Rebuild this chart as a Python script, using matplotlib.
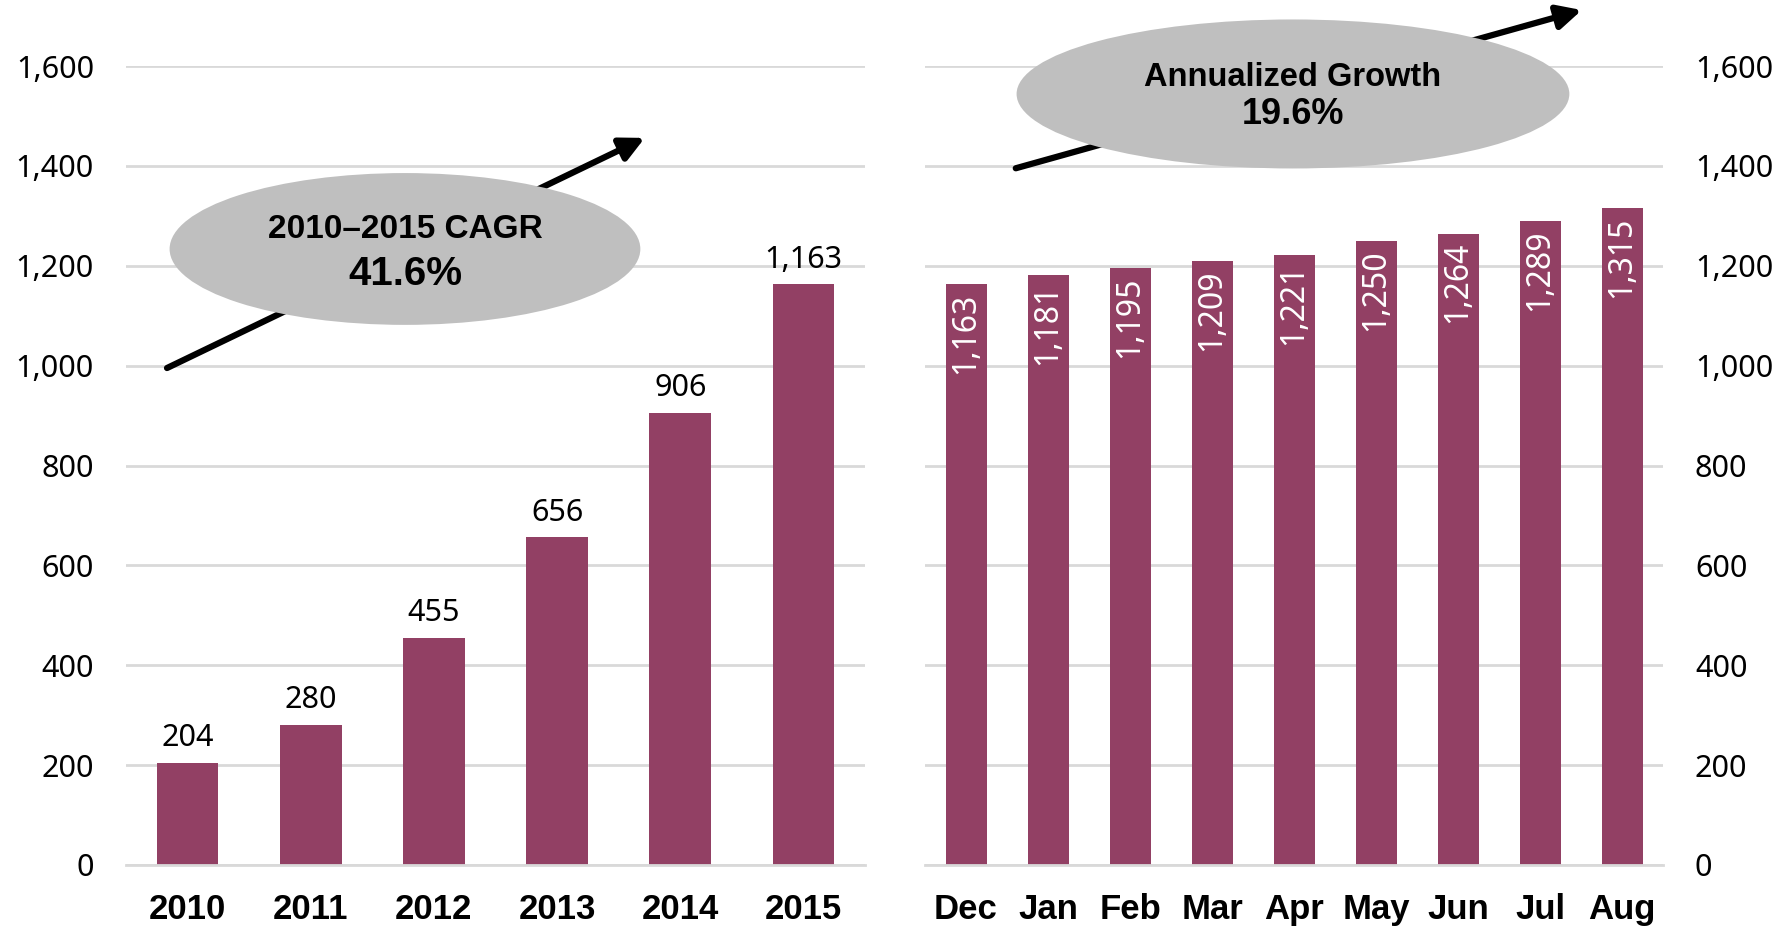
import matplotlib
matplotlib.use("Agg")
import matplotlib.pyplot as plt
from matplotlib.patches import Ellipse

plt.rcParams['font.family'] = ['Noto Sans', 'DejaVu Sans']
BOLD = ['Liberation Sans', 'DejaVu Sans']

# data
years = ["2010", "2011", "2012", "2013", "2014", "2015"]
year_values = [204, 280, 455, 656, 906, 1163]

months = ["Dec", "Jan", "Feb", "Mar", "Apr", "May", "Jun", "Jul", "Aug"]
month_values = [1163, 1181, 1195, 1209, 1221, 1250, 1264, 1289, 1315]

yticks = [0, 200, 400, 600, 800, 1000, 1200, 1400, 1600]

bar_color = "#924064"
grid_color = "#D9D9D9"
oval_color = "#BFBFBF"

W, H = 1791, 926
fig = plt.figure(figsize=(W / 100, H / 100), dpi=100)

ax1 = fig.add_axes([126 / W, 61 / H, 739 / W, 799 / H])
ax2 = fig.add_axes([925 / W, 61 / H, 738 / W, 799 / H])


def style(ax, cats, vals, right=False):
    x = range(len(cats))
    bars = ax.bar(x, vals, width=0.5, color=bar_color, zorder=2)
    ax.set_xlim(-0.5, len(cats) - 0.5)
    ax.set_ylim(0, 1600)
    ax.set_yticks(yticks)
    ax.set_yticklabels(["{:,}".format(v) for v in yticks])
    ax.set_xticks(list(x))
    ax.set_xticklabels(cats, fontweight="bold", fontsize=25, family=BOLD)
    for s in ["top", "left", "right"]:
        ax.spines[s].set_visible(False)
    ax.spines["bottom"].set_color(grid_color)
    ax.spines["bottom"].set_linewidth(2)
    ax.spines["bottom"].set_zorder(3)
    ax.grid(axis="y", color=grid_color, linewidth=2, zorder=0)
    ax.set_axisbelow(True)
    ax.tick_params(axis="both", length=0)
    ax.tick_params(axis="y", labelsize=22, pad=23)
    ax.tick_params(axis="x", pad=20)
    if right:
        ax.yaxis.tick_right()
    return bars


bars1 = style(ax1, years, year_values)
bars2 = style(ax2, months, month_values, right=True)

for b, v in zip(bars1, year_values):
    ax1.annotate("{:,}".format(v), (b.get_x() + b.get_width() / 2, v),
                 xytext=(0, 7), textcoords="offset points",
                 ha="center", va="bottom", fontsize=22)

for b, v in zip(bars2, month_values):
    ax2.annotate("{:,}".format(v), (b.get_x() + b.get_width() / 2, v),
                 xytext=(0, -6), textcoords="offset points",
                 ha="center", va="top", rotation=90, fontsize=23,
                 color="white", zorder=4)


def growth_badge(ax, start, tip, center, size, lines):
    ax.annotate("", xy=tip, xytext=start, xycoords="axes fraction",
                textcoords="axes fraction", annotation_clip=False,
                arrowprops=dict(arrowstyle="-|>", color="black", lw=4.5,
                                mutation_scale=36, shrinkA=0, shrinkB=0),
                zorder=5)
    e = Ellipse(center, size[0], size[1], transform=ax.transAxes,
                facecolor=oval_color, edgecolor="none", clip_on=False, zorder=6)
    ax.add_patch(e)
    for txt, fy, fs in lines:
        ax.text(center[0], fy, txt, transform=ax.transAxes, ha="center",
                va="center", fontsize=fs, fontweight="bold", family=BOLD,
                zorder=7)


growth_badge(ax1, (0.0555, 0.622), (0.702, 0.910), (0.3775, 0.771), (0.637, 0.190),
             [("2010\u20132015 CAGR", 0.795, 24), ("41.6%", 0.740, 29)])
growth_badge(ax2, (0.123, 0.872), (0.890, 1.070), (0.4986, 0.965), (0.749, 0.1865),
             [("Annualized Growth", 0.986, 23.5), ("19.6%", 0.939, 26)])

fig.savefig("out.png", dpi=100)
